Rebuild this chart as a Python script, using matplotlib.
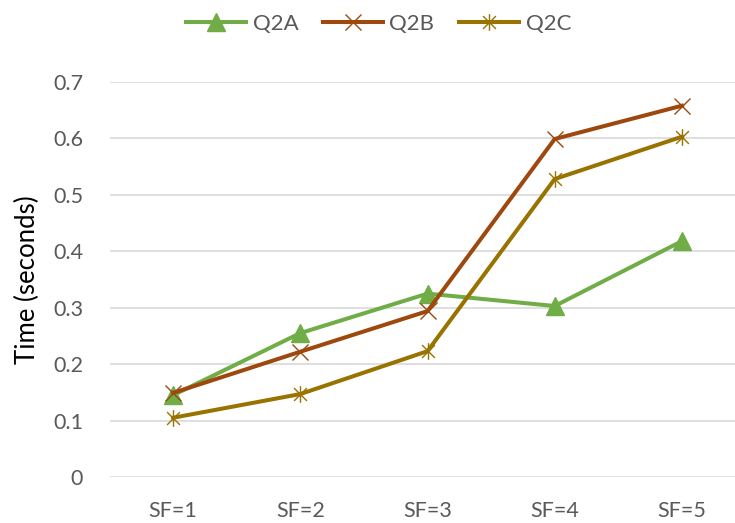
import matplotlib
matplotlib.use("Agg")
import matplotlib.pyplot as plt
from matplotlib.path import Path

categories = ["SF=1", "SF=2", "SF=3", "SF=4", "SF=5"]
q2a = [0.145, 0.255, 0.325, 0.303, 0.418]
q2b = [0.149, 0.222, 0.294, 0.599, 0.658]
q2c = [0.105, 0.147, 0.223, 0.528, 0.603]
yticks = [0, 0.1, 0.2, 0.3, 0.4, 0.5, 0.6, 0.7]
ytick_labels = ["0", "0.1", "0.2", "0.3", "0.4", "0.5", "0.6", "0.7"]

plt.rcParams['font.family'] = ['Lato', 'DejaVu Sans']
text_color = "#595959"

star = Path([(-1, -1), (1, 1), (-1, 1), (1, -1), (0, -1.3), (0, 1.3)],
            [Path.MOVETO, Path.LINETO, Path.MOVETO, Path.LINETO, Path.MOVETO, Path.LINETO])

fig = plt.figure(figsize=(7.35, 5.23), dpi=100)
ax = fig.add_axes([109.5/735, 46/523, 636/735, 395/523])
x = list(range(len(categories)))
lw = 2.9
ax.plot(x, q2a, color="#70AD47", lw=lw, marker="^", ms=12.5, label="Q2A", zorder=3)
ax.plot(x, q2b, color="#9E480E", lw=lw, marker="x", ms=12, mew=1.0, label="Q2B", zorder=4)
ax.plot(x, q2c, color="#997300", lw=lw, marker=star, ms=12, mew=1.0, label="Q2C", zorder=4)

ax.set_xlim(-0.5, 4.5)
ax.set_ylim(0, 0.7)
ax.set_yticks(yticks)
ax.set_yticklabels(ytick_labels)
ax.set_xticks(x)
ax.set_xticklabels(categories)
ax.grid(axis="y", color="#D9D9D9", lw=1.2)
ax.set_axisbelow(True)
for s in ax.spines.values():
    s.set_visible(False)
ax.tick_params(length=0, labelsize=15.5, colors=text_color)
ax.tick_params(axis="y", pad=19)
ax.tick_params(axis="x", pad=17, labelsize=15.5)
ax.set_ylabel("Time (seconds)", fontsize=18.5, color="black", labelpad=9)

fig.legend(loc="upper center", bbox_to_anchor=(0.515, 1.012), ncol=3, frameon=False,
           fontsize=16, labelcolor=text_color, handlelength=2.7, columnspacing=1.1,
           handletextpad=0.3)

fig.savefig("out.png", dpi=100)
